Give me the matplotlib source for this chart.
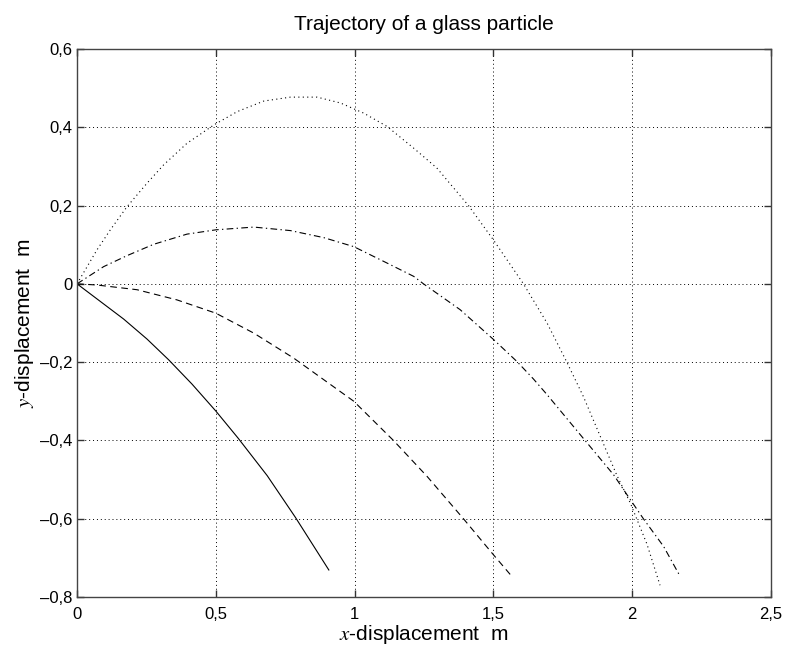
"""Trajectory of a glass particle, MATLAB-style line plot."""
import matplotlib
matplotlib.use('Agg')
import matplotlib.pyplot as plt
from matplotlib.ticker import FuncFormatter

plt.rcParams['font.family'] = ['Liberation Sans', 'DejaVu Sans']
plt.rcParams['mathtext.fontset'] = 'stix'

# values
solid_x = [0, 0.168, 0.252, 0.33, 0.414, 0.50, 0.58, 0.685, 0.787, 0.907]
solid_y = [0, -0.09, -0.141, -0.194, -0.256, -0.325, -0.394, -0.49, -0.597, -0.731]

dashed_x = [0, 0.072, 0.216, 0.36, 0.50, 0.637, 0.781, 0.889, 0.997, 1.141,
            1.261, 1.393, 1.495, 1.561]
dashed_y = [0, -0.003, -0.015, -0.041, -0.075, -0.126, -0.19, -0.245, -0.30, -0.401,
            -0.492, -0.601, -0.688, -0.743]

dashdot_x = [0, 0.096, 0.18, 0.276, 0.396, 0.50, 0.637, 0.769, 0.889, 0.997,
             1.117, 1.213, 1.248, 1.38, 1.50, 1.584, 1.644, 1.693, 1.824, 1.933,
             1.987, 2.041, 2.113, 2.173]
dashdot_y = [0, 0.044, 0.072, 0.101, 0.127, 0.138, 0.145, 0.136, 0.118, 0.095,
             0.053, 0.019, 0.0, -0.066, -0.142, -0.198, -0.243, -0.283, -0.395, -0.488,
             -0.545, -0.601, -0.671, -0.748]

dotted_x = [0, 0.072, 0.12, 0.18, 0.252, 0.312, 0.396, 0.493, 0.577, 0.673,
            0.769, 0.865, 0.949, 1.033, 1.117, 1.212, 1.296, 1.41, 1.50, 1.608,
            1.693, 1.765, 1.824, 1.891, 1.945, 1.993, 2.053, 2.10]
dotted_y = [0, 0.087, 0.138, 0.197, 0.257, 0.304, 0.359, 0.406, 0.44, 0.467,
            0.477, 0.477, 0.462, 0.436, 0.402, 0.347, 0.296, 0.2, 0.112, 0.0,
            -0.10, -0.201, -0.288, -0.40, -0.49, -0.56, -0.665, -0.77]

x_ticks = [0, 0.5, 1, 1.5, 2, 2.5]
y_ticks = [-0.8, -0.6, -0.4, -0.2, 0, 0.2, 0.4, 0.6]


def comma_fmt(v, pos):
    s = f'{v:g}'.replace('.', ',')
    return s.replace('-', '\u2013')


fig = plt.figure(figsize=(7.86, 6.47), dpi=100)
ax = fig.add_axes([0.098, 0.0773, 0.883, 0.847])

lw = 0.8
ax.plot(solid_x, solid_y, '-', color='black', lw=lw)
ax.plot(dashed_x, dashed_y, color='black', lw=lw, dashes=(6, 4))
ax.plot(dashdot_x, dashdot_y, color='black', lw=lw, dashes=(6, 3, 1.2, 3))
ax.plot(dotted_x, dotted_y, color='black', lw=lw, dashes=(1, 3))

ax.set_xlim(0, 2.5)
ax.set_ylim(-0.8, 0.6)
ax.set_xticks(x_ticks)
ax.set_yticks(y_ticks)
ax.xaxis.set_major_formatter(FuncFormatter(comma_fmt))
ax.yaxis.set_major_formatter(FuncFormatter(comma_fmt))
ax.tick_params(direction='in', length=5, width=1, top=True, right=True,
               labelsize=12, colors='#333333', labelcolor='black')
ax.tick_params(axis='x', pad=7)
ax.tick_params(axis='y', pad=3)
ax.grid(True, color='black', linestyle=(0, (1, 3)), lw=0.7)
for sp in ax.spines.values():
    sp.set_color('#444444')
    sp.set_linewidth(1)

ax.set_title('Trajectory of a glass particle', fontsize=15, pad=14)
ax.set_xlabel('$x$-displacement  m', fontsize=15, labelpad=1)
ax.set_ylabel('$y$-displacement  m', fontsize=15, labelpad=3)

plt.savefig('out.png', dpi=100)
plt.close()
